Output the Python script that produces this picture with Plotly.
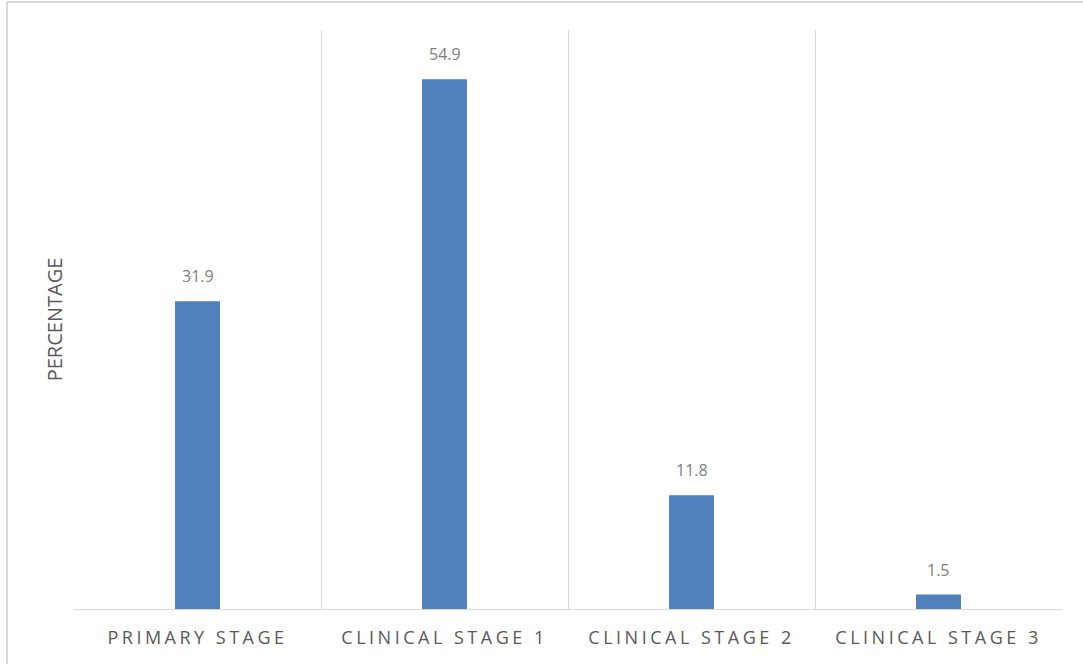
import plotly.graph_objects as go

categories = ["PRIMARY STAGE", "CLINICAL STAGE 1", "CLINICAL STAGE 2", "CLINICAL STAGE 3"]
values = [31.9, 54.9, 11.8, 1.5]
y_title = "PERCENTAGE"

positions = list(range(len(categories)))
boundaries = [p - 0.5 for p in positions] + [positions[-1] + 0.5]

fig = go.Figure()
fig.add_trace(go.Bar(
    x=positions,
    y=values,
    width=0.182,
    marker=dict(color="#4f81bd", line=dict(width=0)),
    hoverinfo="skip",
))

for p, v in zip(positions, values):
    fig.add_annotation(
        x=p, y=v, text=f"{v:.1f}", showarrow=False,
        yanchor="bottom", yshift=12,
        font=dict(family="Open Sans", size=16, color="#7f7f7f"),
    )

fig.update_layout(
    width=1083, height=664,
    margin=dict(l=74, r=21, t=30, b=55),
    paper_bgcolor="white",
    plot_bgcolor="white",
    showlegend=False,
    xaxis=dict(
        range=[boundaries[0], boundaries[-1]],
        tickvals=positions,
        ticktext=categories,
        showgrid=False,
        zeroline=False,
        showline=True,
        linecolor="#d9d9d9",
        linewidth=1,
        ticks="",
        ticklabelstandoff=12,
        tickfont=dict(family="Open Sans", size=18, color="#595959"),
        minor=dict(tickvals=boundaries, showgrid=True, gridcolor="#d9d9d9", gridwidth=1, ticks=""),
    ),
    yaxis=dict(
        range=[0, 60],
        showgrid=False,
        zeroline=False,
        showticklabels=False,
        ticks="",
        showline=False,
        title=dict(text=y_title, standoff=5,
                   font=dict(family="Open Sans", size=20, color="#595959")),
    ),
    shapes=[
        dict(type="line", xref="paper", yref="paper", x0=-0.0678, x1=-0.0678, y0=-0.2, y1=1.0484,
             line=dict(color="#d9d9d9", width=2)),
        dict(type="line", xref="paper", yref="paper", x0=-0.0678, x1=1.03, y0=1.0484, y1=1.0484,
             line=dict(color="#d9d9d9", width=2)),
    ],
)

post = """
document.querySelectorAll('.xtick text').forEach(function(t){ t.style.letterSpacing='3.5px'; });
"""
fig.write_html("out.html", post_script=post)
